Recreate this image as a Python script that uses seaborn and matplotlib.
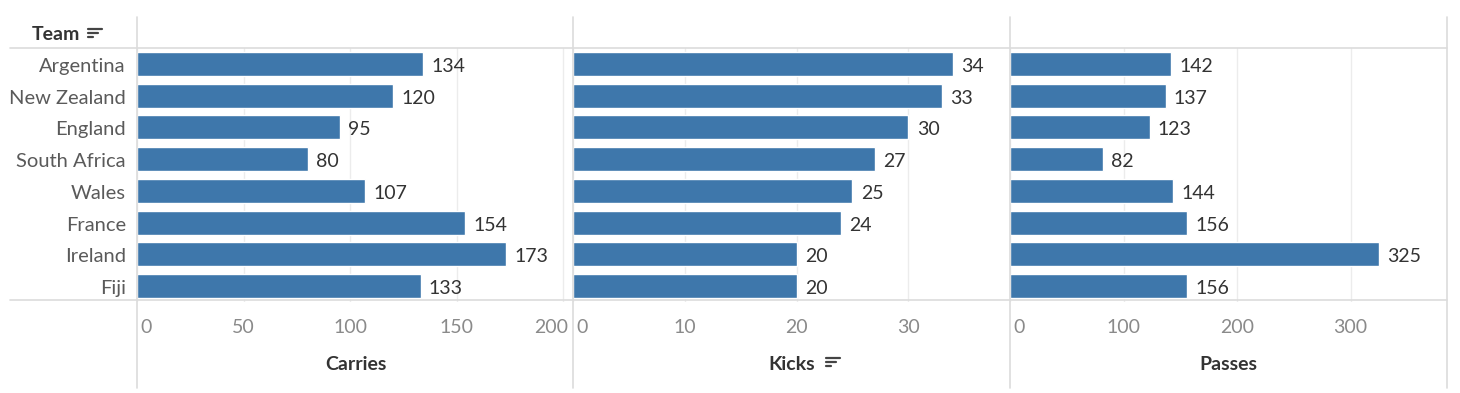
import matplotlib
matplotlib.use("Agg")
import matplotlib.pyplot as plt
import matplotlib.transforms as mtrans
import seaborn as sns
import pandas as pd
from matplotlib.lines import Line2D

teams = ["Argentina", "New Zealand", "England", "South Africa", "Wales", "France", "Ireland", "Fiji"]
carries = [134, 120, 95, 80, 107, 154, 173, 133]
kicks = [34, 33, 30, 27, 25, 24, 20, 20]
passes = [142, 137, 123, 82, 144, 156, 325, 156]

measures = ["Carries", "Kicks", "Passes"]
values = [carries, kicks, passes]
xlims = [(0, 205), (0, 39.1), (0, 385)]
ticks = [[0, 50, 100, 150, 200], [0, 10, 20, 30], [0, 100, 200, 300]]

sns.set_theme(style="white")
plt.rcParams['font.family'] = ['Lato', 'DejaVu Sans']

W, H = 1460, 393
fig = plt.figure(figsize=(W / 100, H / 100), dpi=100)
bar_color = "#3e77ab"
grid_color = "#ececec"
line_color = "#dcdcdc"

lefts = [137, 573, 1010]
pw = 437
top_px, bot_px = 48, 302

def fx(px):
    return px / W

def fy(py):
    return 1 - py / H

def shift(artist, dx, dy):
    artist.set_transform(artist.get_transform() +
                         mtrans.ScaledTranslation(dx / 100, dy / 100, fig.dpi_scale_trans))

for i, (m, vals) in enumerate(zip(measures, values)):
    ax = fig.add_axes([fx(lefts[i]), fy(bot_px), pw / W, (bot_px - top_px) / H])
    df = pd.DataFrame({"Team": teams, m: vals})
    sns.barplot(data=df, y="Team", x=m, order=teams, color=bar_color, width=0.76,
                saturation=1, ax=ax, orient="h")
    ax.set_xlim(*xlims[i])
    ax.set_ylim(len(teams) - 0.5, -0.5)
    ax.set_xticks(ticks[i])
    for t in ticks[i]:
        ax.axvline(t, color=grid_color, lw=1, zorder=0)
    for spine in ax.spines.values():
        spine.set_visible(False)
    ax.set_xlabel("")
    ax.set_ylabel("")
    ax.tick_params(axis="x", length=0, pad=12, labelsize=14, labelcolor="#8a8a8a")
    if i == 0:
        ax.tick_params(axis="y", length=0, pad=8, labelsize=14.5, labelcolor="#5a5a5a")
        for lab in ax.get_yticklabels():
            shift(lab, 0, -1)
    else:
        ax.set_yticklabels([])
        ax.tick_params(axis="y", length=0)
    labs = ax.get_xticklabels()
    labs[0].set_horizontalalignment("left")
    shift(labs[0], 3, 0)
    if i == 0:
        shift(labs[-1], -12, 0)
    for cont in ax.containers:
        texts = ax.bar_label(cont, labels=[str(v) for v in vals], padding=6, fontsize=14,
                             color="#333333")
        for t in texts:
            x0, y0 = t.xyann
            t.xyann = (x0, y0 - 1.8)
    fig.text(fx(lefts[i] + pw / 2), fy(364), m, ha="center", va="center",
             fontsize=14, color="#333333", fontweight="bold")

def sort_icon(x, y):
    widths = [14, 10, 5]
    for k, w in enumerate(widths):
        yy = y + k * 4
        fig.add_artist(Line2D([fx(x), fx(x + w)], [fy(yy), fy(yy)], color="#444444", lw=1.6))

fig.text(fx(32), fy(35), "Team", ha="left", va="center", fontsize=14, color="#333333",
         fontweight="bold")
sort_icon(88, 29)
sort_icon(826, 358)

fig.add_artist(Line2D([fx(10), fx(1447)], [fy(48), fy(48)], color=line_color, lw=1.2))
fig.add_artist(Line2D([fx(10), fx(1447)], [fy(300), fy(300)], color=line_color, lw=1.2))
for x in [137, 573, 1010, 1447]:
    fig.add_artist(Line2D([fx(x), fx(x)], [fy(17), fy(388)], color=line_color, lw=1.2))

fig.savefig("out.png", dpi=100, facecolor="white")
